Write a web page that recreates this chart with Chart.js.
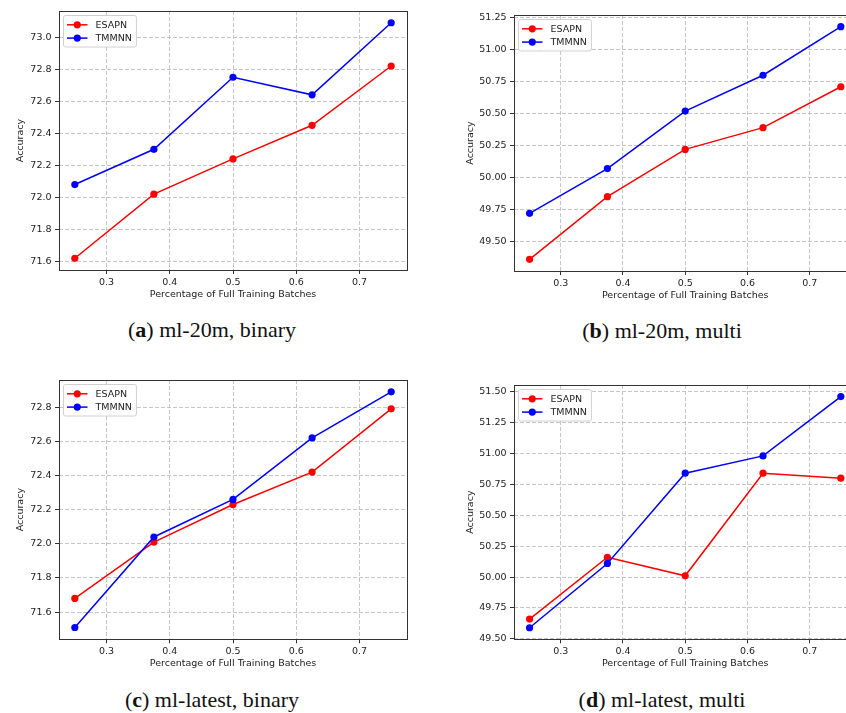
<!DOCTYPE html>
<html>
<head>
<meta charset="utf-8">
<script src="https://cdn.jsdelivr.net/npm/chart.js@4.4.0/dist/chart.umd.min.js"></script>
<style>
  html, body { margin: 0; padding: 0; background: #fff; overflow: hidden; }
  body { width: 846px; height: 713px; position: relative; }
  .panel { position: absolute; width: 430px; height: 310px; }
  .cap { position: absolute; width: 320px; text-align: center; line-height: 22px;
         font-family: "Liberation Serif", "Times New Roman", serif; font-size: 22px; color: #111; }
</style>
</head>
<body>
<div class="panel" style="left:0;top:0"><canvas id="chartA" width="430" height="310"></canvas></div>
<div class="panel" style="left:430px;top:0"><canvas id="chartB" width="430" height="310"></canvas></div>
<div class="panel" style="left:0;top:369px"><canvas id="chartC" width="430" height="310"></canvas></div>
<div class="panel" style="left:430px;top:369px"><canvas id="chartD" width="430" height="310"></canvas></div>

<div class="cap" style="left:52px;top:319px">(<b>a</b>) ml-20m, binary</div>
<div class="cap" style="left:502px;top:320px">(<b>b</b>) ml-20m, multi</div>
<div class="cap" style="left:52px;top:689px">(<b>c</b>) ml-latest, binary</div>
<div class="cap" style="left:502px;top:689px">(<b>d</b>) ml-latest, multi</div>

<script>
// datos
const fractions = [0.25, 0.375, 0.5, 0.625, 0.75];
const seriesNames = ["ESAPN", "TMMNN"];
const xTicks = [0.3, 0.4, 0.5, 0.6, 0.7];

const esapn20mBinary = [71.62, 72.02, 72.24, 72.45, 72.82];
const tmmnn20mBinary = [72.08, 72.30, 72.75, 72.64, 73.09];
const esapn20mMulti = [49.36, 49.85, 50.22, 50.39, 50.71];
const tmmnn20mMulti = [49.72, 50.07, 50.52, 50.80, 51.18];
const esapnLatestBinary = [71.68, 72.01, 72.23, 72.42, 72.79];
const tmmnnLatestBinary = [71.51, 72.04, 72.26, 72.62, 72.89];
const esapnLatestMulti = [49.66, 50.16, 50.01, 50.84, 50.80];
const tmmnnLatestMulti = [49.59, 50.11, 50.84, 50.98, 51.46];

const yTicks20mBinary = [71.6, 71.8, 72.0, 72.2, 72.4, 72.6, 72.8, 73.0];
const yTicks20mMulti = [49.5, 49.75, 50.0, 50.25, 50.5, 50.75, 51.0, 51.25];
const yTicksLatestBinary = [71.6, 71.8, 72.0, 72.2, 72.4, 72.6, 72.8];
const yTicksLatestMulti = [49.5, 49.75, 50.0, 50.25, 50.5, 50.75, 51.0, 51.25, 51.5];

const colors = ["#ff0000", "#0000ff"];

Chart.defaults.font.family = "'DejaVu Sans', sans-serif";
Chart.defaults.font.size = 9.5;
Chart.defaults.color = "#222";

// marco del eje y leyenda estilo matplotlib
const frameAndLegend = {
  id: "frameAndLegend",
  afterDatasetsDraw(chart) {
    const ctx = chart.ctx, a = chart.chartArea;
    ctx.save();
    ctx.strokeStyle = "#333";
    ctx.lineWidth = 1;
    ctx.strokeRect(Math.round(a.left) + 0.5, Math.round(a.top) + 0.5,
                   Math.round(a.right - a.left), Math.round(a.bottom - a.top));

    ctx.font = "9.5px 'DejaVu Sans'";
    const sets = chart.data.datasets;
    const tw = Math.max(...sets.map(d => ctx.measureText(d.label).width));
    const bx = a.left + 4.5, by = a.top + 4.5, bw = 32 + tw + 4.5, bh = 31.5, r = 2;
    ctx.beginPath();
    ctx.moveTo(bx + r, by);
    ctx.arcTo(bx + bw, by, bx + bw, by + bh, r);
    ctx.arcTo(bx + bw, by + bh, bx, by + bh, r);
    ctx.arcTo(bx, by + bh, bx, by, r);
    ctx.arcTo(bx, by, bx + bw, by, r);
    ctx.closePath();
    ctx.fillStyle = "rgba(255,255,255,0.85)";
    ctx.fill();
    ctx.strokeStyle = "#d0d0d0";
    ctx.stroke();

    sets.forEach((d, i) => {
      const cy = by + 9.3 + i * 13.3;
      ctx.strokeStyle = d.borderColor;
      ctx.lineWidth = 1.5;
      ctx.beginPath();
      ctx.moveTo(bx + 3.5, cy);
      ctx.lineTo(bx + 24, cy);
      ctx.stroke();
      ctx.fillStyle = d.borderColor;
      ctx.beginPath();
      ctx.arc(bx + 13.75, cy, 3.6, 0, Math.PI * 2);
      ctx.fill();
      ctx.fillStyle = "#222";
      ctx.textBaseline = "middle";
      ctx.fillText(d.label, bx + 32, cy + 0.5);
    });
    ctx.restore();
  }
};

function makeChart(id, esapn, tmmnn, yTicks, decimals, box) {
  const all = esapn.concat(tmmnn);
  const lo = Math.min(...all), hi = Math.max(...all), pad = (hi - lo) * 0.05;
  const xlo = fractions[0], xhi = fractions[fractions.length - 1], xpad = (xhi - xlo) * 0.05;
  const series = [esapn, tmmnn];

  new Chart(document.getElementById(id), {
    type: "line",
    data: {
      datasets: series.map((vals, i) => ({
        label: seriesNames[i],
        data: fractions.map((x, j) => ({ x: x, y: vals[j] })),
        borderColor: colors[i],
        backgroundColor: colors[i],
        borderWidth: 1.5,
        pointRadius: 3.6,
        pointBorderWidth: 0,
        pointHoverRadius: 3.6,
        order: series.length - i,
        tension: 0
      }))
    },
    options: {
      responsive: false,
      animation: false,
      events: [],
      layout: { padding: { left: box.padLeft, top: box.top, right: 430 - box.right, bottom: 310 - box.bottom - 34 } },
      plugins: { legend: { display: false }, tooltip: { enabled: false } },
      scales: {
        x: {
          type: "linear",
          min: xlo - xpad,
          max: xhi + xpad,
          afterBuildTicks: s => { s.ticks = xTicks.map(v => ({ value: v })); },
          afterFit: s => { s.height = 34; },
          ticks: { padding: 2.5, maxRotation: 0, callback: v => v.toFixed(1) },
          grid: { color: "#b8b8b8", lineWidth: 0.8, tickColor: "#333", tickLength: 4, tickWidth: 1, tickBorderDash: [] },
          border: { display: false, dash: [4, 2] },
          title: { display: true, text: "Percentage of Full Training Batches", padding: { top: 4, bottom: 4 } }
        },
        y: {
          type: "linear",
          min: lo - pad,
          max: hi + pad,
          afterBuildTicks: s => { s.ticks = yTicks.map(v => ({ value: v })); },
          afterFit: s => { s.width = box.left - box.padLeft; },
          ticks: { padding: 3.5, callback: v => v.toFixed(decimals) },
          grid: { color: "#b8b8b8", lineWidth: 0.8, tickColor: "#333", tickLength: 4, tickWidth: 1, tickBorderDash: [] },
          border: { display: false, dash: [4, 2] },
          title: { display: true, text: "Accuracy", padding: { top: 4, bottom: 4 } }
        }
      }
    },
    plugins: [frameAndLegend]
  });
}

makeChart("chartA", esapn20mBinary, tmmnn20mBinary, yTicks20mBinary, 1,
          { padLeft: 11.3, left: 59, top: 11, right: 407, bottom: 270 });
makeChart("chartB", esapn20mMulti, tmmnn20mMulti, yTicks20mMulti, 2,
          { padLeft: 31, left: 84, top: 15, right: 427, bottom: 271 });
makeChart("chartC", esapnLatestBinary, tmmnnLatestBinary, yTicksLatestBinary, 1,
          { padLeft: 11.3, left: 59, top: 11, right: 407, bottom: 270.3 });
makeChart("chartD", esapnLatestMulti, tmmnnLatestMulti, yTicksLatestMulti, 2,
          { padLeft: 31, left: 84, top: 16, right: 427, bottom: 270.3 });
</script>
</body>
</html>
